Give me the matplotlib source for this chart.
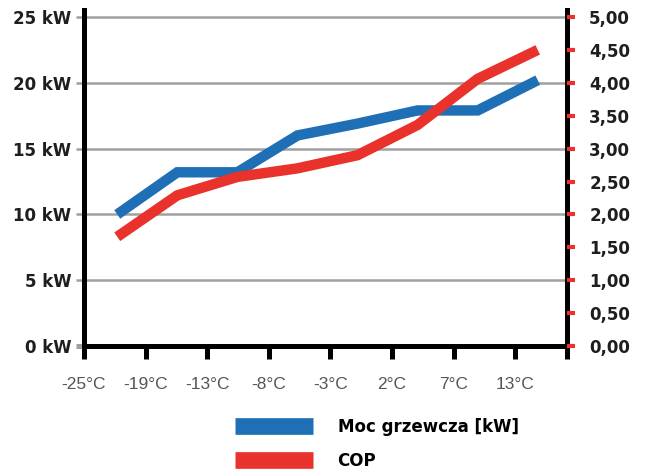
import numpy as np
import matplotlib
matplotlib.use("Agg")
from matplotlib import pyplot as plt
from matplotlib.lines import Line2D

# data
temp_labels = ["-25°C", "-19°C", "-13°C", "-8°C", "-3°C", "2°C", "7°C", "13°C"]
power_kw = [10.0, 13.2, 13.2, 16.0, 16.9, 17.9, 17.9, 20.2]
cop = [1.66, 2.29, 2.57, 2.70, 2.90, 3.36, 4.06, 4.50]
kw_ticks = [0, 5, 10, 15, 20, 25]
cop_ticks = [0, 0.5, 1, 1.5, 2, 2.5, 3, 3.5, 4, 4.5, 5]

BLUE = "#1f6fb6"
RED = "#e8322b"
GRID = "#a0a0a0"
DARK = "#1e1e1e"

bold_font = ["DejaVu Sans"]
thin_font = ["Liberation Sans Narrow", "Liberation Sans", "DejaVu Sans"]

def makePlot():
    fig = plt.figure(figsize=(6.49, 4.71), dpi=100)
    ax = fig.add_axes([84 / 649, 1 - 346 / 471, (567 - 84) / 649, 336 / 471])

    # points sit a bit to the right of each tick, slightly tighter spacing
    x = np.arange(len(power_kw)) * 0.975 + 0.54
    xmax = 7.84
    ax.set_xlim(0, xmax)
    ax.set_ylim(0, 25 * 336 / 329)

    ax.spines["top"].set_visible(False)
    for s in ["left", "right", "bottom"]:
        ax.spines[s].set_linewidth(3.6)
        ax.spines[s].set_color("black")

    # grid
    for v in kw_ticks[1:]:
        ax.axhline(v, color=GRID, lw=1.8, zorder=1)

    ax.plot(x, power_kw, color=BLUE, lw=7.5, solid_joinstyle="miter",
            solid_capstyle="butt", zorder=3)

    ax.set_yticks(kw_ticks)
    ax.set_yticklabels([f"{v} kW" for v in kw_ticks], fontfamily=bold_font,
                       fontweight="bold", fontsize=12, color=DARK)
    ax.tick_params(axis="y", length=6, width=1.8, color=GRID, pad=3)
    t0 = ax.yaxis.get_major_ticks()[0]
    t0.tick1line.set_color("black")
    t0.tick1line.set_markeredgewidth(3.6)

    xt = list(range(len(temp_labels))) + [xmax]
    ax.set_xticks(xt)
    ax.set_xticklabels(temp_labels + [""], fontfamily=thin_font,
                       fontsize=12.5, color="#555555")
    ax.tick_params(axis="x", length=9, width=3.6, color="black", pad=13)

    ax2 = ax.twinx()
    ax2.set_ylim(0, 5 * 336 / 329)
    ax2.set_xlim(0, xmax)
    for s in ["top", "left", "bottom", "right"]:
        ax2.spines[s].set_visible(False)
    ax2.plot(x, cop, color=RED, lw=7.5, solid_joinstyle="miter",
             solid_capstyle="butt", zorder=4)
    ax2.set_yticks(cop_ticks)
    ax2.set_yticklabels([f"{v:.2f}".replace(".", ",") for v in cop_ticks],
                        fontfamily=bold_font, fontweight="bold",
                        fontsize=12, color=DARK)
    ax2.tick_params(axis="y", length=6, width=3, color=RED, pad=10)

    handles = [Line2D([], [], color=BLUE, lw=12, solid_capstyle="butt"),
               Line2D([], [], color=RED, lw=12, solid_capstyle="butt")]
    fig.legend(handles, ["Moc grzewcza [kW]", "COP"], loc="upper left",
               bbox_to_anchor=(235 / 649, 1 - 418 / 471), frameon=False,
               borderpad=0, borderaxespad=0, handlelength=4.7,
               handletextpad=1.45, labelspacing=0.95,
               prop={"family": bold_font, "weight": "bold", "size": 12})

    fig.savefig("out.png", dpi=100)


def main():
    makePlot()


if __name__ == '__main__':
    main()
